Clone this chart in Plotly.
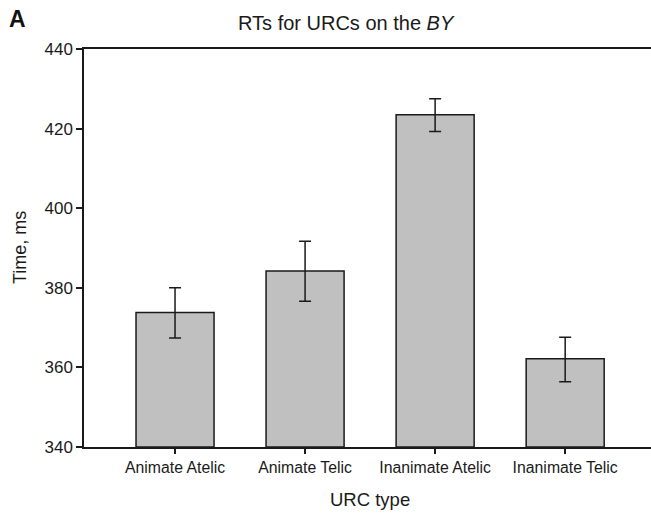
import plotly.graph_objects as go

categories = ["Animate Atelic", "Animate Telic", "Inanimate Atelic", "Inanimate Telic"]
means = [373.8, 384.2, 423.5, 362.2]
err_upper = [6.2, 7.5, 4.0, 5.4]
err_lower = [6.4, 7.6, 4.2, 5.8]
y_ticks = [340, 360, 380, 400, 420, 440]

x_pos = list(range(len(categories)))
font = "Liberation Sans, Arial, sans-serif"
W, H = 651, 513
L, R, T, B = 84, 0, 48.5, 65.5
pw, ph = W - L - R, H - T - B


def px(x):
    return (x - L) / pw


def py(y):
    return (H - B - y) / ph


fig = go.Figure()
fig.add_trace(go.Bar(
    x=x_pos, y=[m - 340 for m in means], base=340,
    width=0.6,
    marker=dict(color="#c0c0c0", line=dict(color="#1a1a1a", width=1.5)),
    error_y=dict(type="data", symmetric=False, array=err_upper, arrayminus=err_lower,
                 color="#1a1a1a", thickness=1.5, width=6),
    showlegend=False,
))

fig.update_layout(
    width=W, height=H,
    margin=dict(l=L, r=R, t=T, b=B),
    plot_bgcolor="white", paper_bgcolor="white",
    font=dict(family=font, color="#1a1a1a"),
    xaxis=dict(range=[-0.7, 3.66], tickmode="array", tickvals=x_pos, ticktext=categories,
               showline=True, linecolor="#1a1a1a", linewidth=1.5, mirror=True,
               ticks="outside", ticklen=5, tickcolor="#1a1a1a", tickwidth=1.5,
               showgrid=False, zeroline=False, tickfont=dict(size=15.8)),
    yaxis=dict(range=[340, 440], tickvals=y_ticks,
               showline=True, linecolor="#1a1a1a", linewidth=1.5,
               ticks="outside", ticklen=6, tickcolor="#1a1a1a", tickwidth=1.5,
               showgrid=False, zeroline=False, tickfont=dict(size=17)),
    annotations=[
        dict(text="<b>A</b>", x=px(7), y=py(18), xref="paper", yref="paper",
             xanchor="left", yanchor="middle", showarrow=False,
             font=dict(size=23, family=font, color="#111111")),
        dict(text="RTs for URCs on the <i>BY</i>", x=px(346), y=py(22), xref="paper", yref="paper",
             xanchor="center", yanchor="middle", showarrow=False,
             font=dict(size=20, family=font, color="#1a1a1a")),
        dict(text="URC type", x=px(370), y=py(500), xref="paper", yref="paper",
             xanchor="center", yanchor="middle", showarrow=False,
             font=dict(size=18.5, family=font, color="#1a1a1a")),
        dict(text="Time, ms", x=px(20), y=py(248), xref="paper", yref="paper",
             xanchor="center", yanchor="middle", showarrow=False, textangle=-90,
             font=dict(size=18, family=font, color="#1a1a1a")),
    ],
)

fig.write_html("out.html")
